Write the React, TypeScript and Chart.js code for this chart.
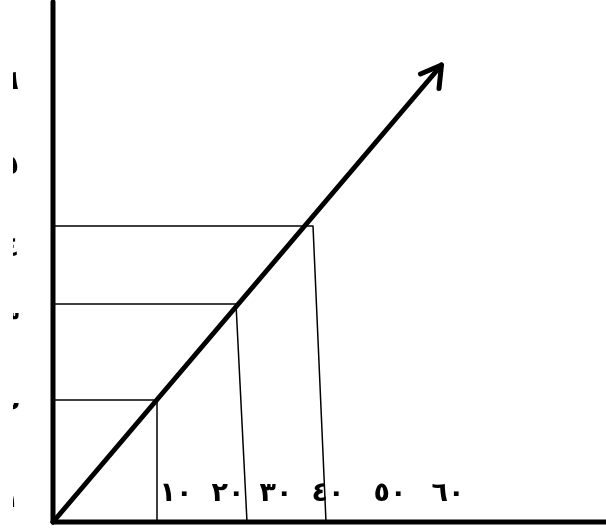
import React, { useEffect, useRef } from "react";
import { Chart, registerables } from "chart.js";

Chart.register(...registerables);

// Axis extents (value units)
const axisXEnd = 111;
const axisYEnd = 104;

// Main arrow: origin -> tip
const arrowX = [0, 77.7];
const arrowY = [0, 91.4];
// Arrow head: wing1 -> tip -> wing2
const headX = [73.5, 77.7, 77.2];
const headY = [89.6, 91.4, 86.7];

// Guide lines from the y axis to the arrow and down to the x axis
const guideLevels = [24.4, 43.6, 59.2];
const guideTopX = [20.8, 36.6, 52];
const guideBaseX = [20.8, 38.8, 54.6];

// Tick labels
const xTickLabels = ["١٠", "٢٠", "٣٠", "٤٠", "٥٠", "٦٠"];
const xTickPos = [23.8, 34.2, 43.8, 54.2, 66.6, 78.2];
const xTickLevel = 5.6;
const yTickLabels = ["١", "٢", "٣", "٤", "٥", "٦"];
const yTickPos = [4.4, 21.8, 39.8, 54.6, 71, 88];
const yTickX = -6.8;

export default function App() {
  const ref = useRef<HTMLCanvasElement | null>(null);

  useEffect(() => {
    if (!ref.current) return;
    const line = (xs: number[], ys: number[], w: number) => ({
      data: xs.map((x, i) => ({ x, y: ys[i] })),
      showLine: true,
      borderColor: "#000",
      borderWidth: w,
      pointRadius: 0,
      fill: false,
      clip: false as any,
      borderCapStyle: "round" as const,
      borderJoinStyle: "round" as const,
    });
    const datasets: any[] = [];
    guideLevels.forEach((lv, i) => {
      datasets.push(line([0, guideTopX[i], guideBaseX[i]], [lv, lv, 0], 1.5));
    });
    datasets.push(line([0, 0], [0, axisYEnd], 5));
    datasets.push(line([0, axisXEnd], [0, 0], 5));
    datasets.push(line(arrowX, arrowY, 5));
    datasets.push(line(headX, headY, 5));

    const labels = {
      id: "labels",
      afterDatasetsDraw(chart: any) {
        const ctx = chart.ctx as CanvasRenderingContext2D;
        const xs = chart.scales.x;
        const ys = chart.scales.y;
        ctx.save();
        ctx.fillStyle = "#000";
        ctx.font = "bold 27px 'DejaVu Sans'";
        ctx.textBaseline = "middle";
        ctx.textAlign = "center";
        (ctx as any).letterSpacing = "8px";
        xTickLabels.forEach((t, i) => {
          ctx.fillText(t, xs.getPixelForValue(xTickPos[i]) + 4, ys.getPixelForValue(xTickLevel));
        });
        (ctx as any).letterSpacing = "0px";
        ctx.beginPath();
        ctx.rect(13, 0, 40, chart.height);
        ctx.clip();
        ctx.textAlign = "right";
        yTickLabels.forEach((t, i) => {
          ctx.fillText(t, xs.getPixelForValue(yTickX), ys.getPixelForValue(yTickPos[i]));
        });
        ctx.restore();
      },
    };

    const chart = new Chart(ref.current, {
      type: "scatter",
      data: { datasets },
      options: {
        animation: false,
        responsive: false,
        events: [],
        layout: { padding: { left: 53, right: 3, top: 3, bottom: 9 } },
        plugins: { legend: { display: false }, tooltip: { enabled: false } },
        scales: {
          x: { type: "linear", min: 0, max: 110, display: false },
          y: { type: "linear", min: 0, max: 103.8, display: false },
        },
      },
      plugins: [labels],
    });
    return () => chart.destroy();
  }, []);

  return (
    <div style={{ position: "fixed", left: 0, top: 0, width: 606, height: 531, background: "#fff" }}>
      <canvas ref={ref} width={606} height={531} style={{ display: "block" }} />
    </div>
  );
}
